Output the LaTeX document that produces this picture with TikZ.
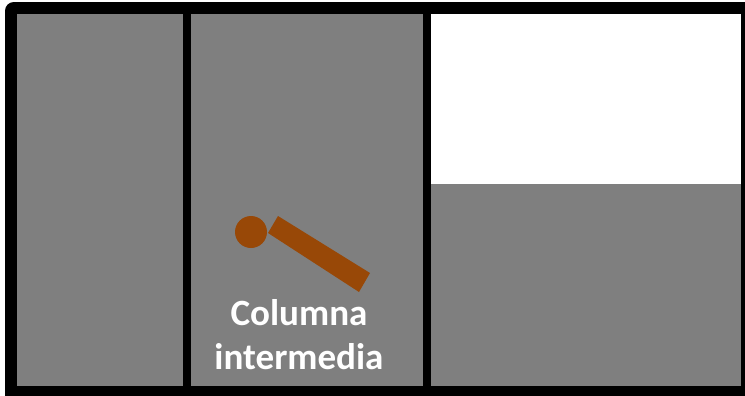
\documentclass[tikz,border=0pt]{standalone}
\usepackage{xcolor}
\usepackage{fontspec}
\setmainfont{Carlito}
\usepackage{tikz}
\definecolor{fillgray}{HTML}{7F7F7F}
\definecolor{rodbrown}{HTML}{984807}
\begin{document}
\begin{tikzpicture}[x=0.02cm,y=-0.02cm]
    \useasboundingbox (0,0) rectangle (745,396);
    \coordinate (A) at (278,216);
    \coordinate (B) at (370,273);
    \coordinate (C) at (359,292);
    \coordinate (D) at (268,233);
    \fill[black] (5,396) [rounded corners=5] -- (5,2) [sharp corners] -- (745,2) -- (745,396) -- cycle;
    \fill[fillgray] (17,14) rectangle (183,386);
    \fill[fillgray] (191,14) rectangle (423,386);
    \fill[white] (431,14) rectangle (741,184);
    \fill[fillgray] (431,184) rectangle (741,386);
    \fill[rodbrown] (A)--(B)--(C)--(D)--cycle;
    \fill[rodbrown] (251,232) circle (16);
    \node[text=white,align=center,font=\bfseries\fontsize{21.1}{25}\selectfont] (label) at (299,335) {Columna\\intermedia};
\end{tikzpicture}
\end{document}
